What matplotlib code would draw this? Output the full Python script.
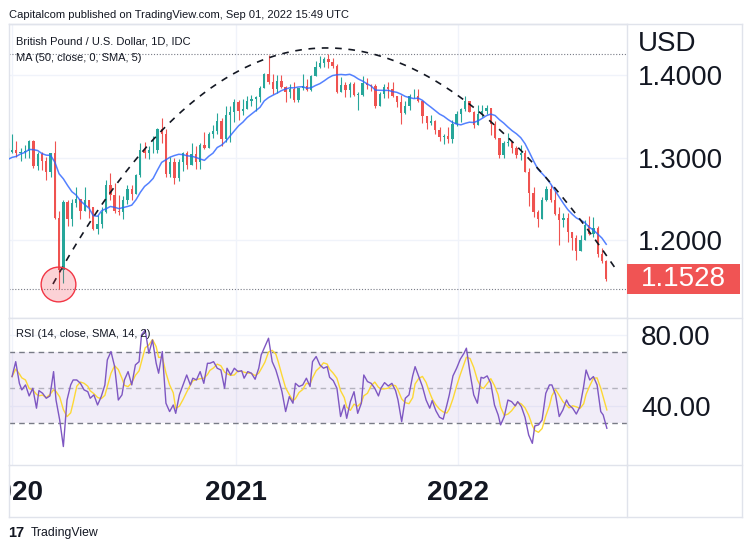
import matplotlib
matplotlib.use('Agg')
import matplotlib.pyplot as plt
import matplotlib.dates as mdates
from matplotlib.lines import Line2D
from matplotlib.patches import Rectangle
from matplotlib.ticker import FormatStrFormatter
from matplotlib.transforms import blended_transform_factory, Bbox, TransformedBbox
import numpy as np
import pandas as pd

plt.rcParams['font.family'] = ['Liberation Sans', 'DejaVu Sans']

# ---------------- data (weekly GBP/USD candles, week ending Friday) ----------------
first_week = '2019-10-04'
first_open = 1.2210
closes = [
    1.2330, 1.2670, 1.2970, 1.2830, 1.2940, 1.2770, 1.2900, 1.2830, 1.2930, 1.3150, 1.3330, 1.3010, 1.3070,
    1.3085, 1.3060, 1.3070, 1.3075, 1.3200, 1.2900, 1.3045, 1.2960, 1.2820, 1.3050, 1.2270, 1.1640, 1.2460,
    1.2260, 1.2450, 1.2495, 1.2350, 1.2490, 1.2400, 1.2130, 1.2200, 1.2340, 1.2670, 1.2540, 1.2350, 1.2335,
    1.2480, 1.2620, 1.2560, 1.2790, 1.3090, 1.3060, 1.3090, 1.3090, 1.3350, 1.3280, 1.2800, 1.2940, 1.2750,
    1.2940, 1.3050, 1.2915, 1.3040, 1.2950, 1.3150, 1.3120, 1.3290, 1.3320, 1.3440, 1.3225, 1.3520, 1.3550,
    1.3670, 1.3560, 1.3590, 1.3685, 1.3705, 1.3735, 1.3840, 1.4010, 1.3920, 1.3830, 1.3930, 1.3860, 1.3790,
    1.3830, 1.3700, 1.3840, 1.3870, 1.3820, 1.3990, 1.4100, 1.4150, 1.4195, 1.4160, 1.4110, 1.3790, 1.3880,
    1.3820, 1.3890, 1.3760, 1.3760, 1.3900, 1.3880, 1.3870, 1.3620, 1.3770, 1.3860, 1.3830, 1.3740, 1.3670,
    1.3540, 1.3620, 1.3740, 1.3750, 1.3680, 1.3500, 1.3415, 1.3440, 1.3330, 1.3250, 1.3265, 1.3230, 1.3410,
    1.3530,
    1.3590, 1.3680, 1.3555, 1.3400, 1.3530, 1.3560, 1.3595, 1.3410, 1.3240, 1.3030, 1.3180, 1.3190, 1.3110,
    1.3030, 1.3060, 1.2830, 1.2570, 1.2340, 1.2260, 1.2490, 1.2620, 1.2490, 1.2310, 1.2240, 1.2270, 1.2100,
    1.2030, 1.1870, 1.2000, 1.2180, 1.2070, 1.2140, 1.1830, 1.1740, 1.1528,
]
highs = [
    1.2390, 1.2710, 1.3013, 1.3012, 1.2980, 1.2950, 1.2930, 1.2980, 1.2980, 1.3180, 1.3514, 1.3400, 1.3120,
    1.3285, 1.3200, 1.3120, 1.3155, 1.3210, 1.3210, 1.3070, 1.3070, 1.3010, 1.3060, 1.3200, 1.2350, 1.2485,
    1.2480, 1.2500, 1.2647, 1.2500, 1.2640, 1.2480, 1.2400, 1.2300, 1.2400, 1.2730, 1.2812, 1.2690, 1.2540,
    1.2530, 1.2670, 1.2670, 1.2800, 1.3170, 1.3185, 1.3145, 1.3265, 1.3360, 1.3482, 1.3350, 1.3005, 1.2990,
    1.2980, 1.3065, 1.3080, 1.3175, 1.3140, 1.3180, 1.3310, 1.3310, 1.3400, 1.3540, 1.3475, 1.3625, 1.3620,
    1.3705, 1.3700, 1.3710, 1.3745, 1.3760, 1.3740, 1.3865, 1.4030, 1.4240, 1.4015, 1.4000, 1.4000, 1.3870,
    1.3885, 1.3920, 1.3840, 1.4010, 1.3950, 1.4005, 1.4165, 1.4235, 1.4220, 1.4250, 1.4200, 1.4135, 1.3975,
    1.3910, 1.3910, 1.3910, 1.3790, 1.3985, 1.3960, 1.3890, 1.3890, 1.3790, 1.3890, 1.3910, 1.3910, 1.3750,
    1.3760, 1.3680, 1.3770, 1.3835, 1.3830, 1.3700, 1.3500, 1.3515, 1.3450, 1.3375, 1.3290, 1.3375, 1.3450,
    1.3560,
    1.3600, 1.3750, 1.3690, 1.3560, 1.3640, 1.3640, 1.3640, 1.3605, 1.3440, 1.3240, 1.3200, 1.3300, 1.3170,
    1.3140, 1.3150, 1.3090, 1.2870, 1.2640, 1.2360, 1.2520, 1.2660, 1.2665, 1.2600, 1.2405, 1.2325, 1.2330,
    1.2100, 1.2060, 1.2065, 1.2245, 1.2295, 1.2275, 1.2165, 1.1900, 1.1760,
]
lows = [
    1.2200, 1.2195, 1.2630, 1.2800, 1.2830, 1.2760, 1.2770, 1.2820, 1.2820, 1.2920, 1.3100, 1.3000, 1.2980,
    1.3050, 1.3010, 1.2955, 1.2990, 1.3000, 1.2875, 1.2850, 1.2850, 1.2725, 1.2765, 1.2260, 1.1410, 1.1480,
    1.2165, 1.2170, 1.2400, 1.2250, 1.2350, 1.2265, 1.2120, 1.2075, 1.2150, 1.2330, 1.2480, 1.2330, 1.2300,
    1.2250, 1.2440, 1.2480, 1.2600, 1.2760, 1.2990, 1.2985, 1.3060, 1.3060, 1.3180, 1.2760, 1.2760, 1.2676,
    1.2720, 1.2840, 1.2865, 1.2920, 1.2855, 1.2855, 1.3105, 1.3140, 1.3240, 1.3290, 1.3135, 1.3190, 1.3190,
    1.3430, 1.3450, 1.3520, 1.3590, 1.3625, 1.3565, 1.3670, 1.3840, 1.3890, 1.3775, 1.3780, 1.3840, 1.3670,
    1.3720, 1.3670, 1.3670, 1.3820, 1.3800, 1.3800, 1.3990, 1.4080, 1.4100, 1.4080, 1.4080, 1.3785, 1.3790,
    1.3730, 1.3730, 1.3750, 1.3570, 1.3740, 1.3835, 1.3800, 1.3600, 1.3640, 1.3720, 1.3725, 1.3730, 1.3610,
    1.3410, 1.3530, 1.3570, 1.3720, 1.3670, 1.3420, 1.3350, 1.3390, 1.3280, 1.3195, 1.3160, 1.3170, 1.3180,
    1.3380,
    1.3430, 1.3560, 1.3550, 1.3360, 1.3430, 1.3490, 1.3530, 1.3270, 1.3225, 1.3000, 1.3000, 1.3140, 1.3050,
    1.3000, 1.2970, 1.2820, 1.2410, 1.2275, 1.2155, 1.2300, 1.2470, 1.2460, 1.2300, 1.1935, 1.2160, 1.1975,
    1.1875, 1.1760, 1.1890, 1.2000, 1.2060, 1.2040, 1.1800, 1.1720, 1.1500,
]

# RSI(14) readings, one every 4 business days from 2020-01-01
rsi_start = '2020-01-01'
rsi_values = [
    56.3, 64.7, 52.5, 48.8, 51.6, 45.4, 49.7, 38.5, 48.4, 46.9,
    44.1, 45.4, 59.1, 43.1, 31.9, 16.9, 43.1, 51.6, 54.4, 54.4,
    52.5, 48.8, 47.8, 44.1, 46.0, 40.3, 45.0, 51.6, 65.7, 70.4,
    61.9, 43.1, 46.0, 54.4, 59.1, 51.6, 62.9, 64.7, 79.8, 82.6,
    69.4, 76.9, 63.8, 58.2, 70.4, 41.3, 36.6, 40.3, 35.6, 46.0,
    51.6, 57.2, 51.6, 55.4, 54.4, 59.1, 52.5, 63.8, 63.8, 64.7,
    61.0, 60.0, 49.7, 61.0, 57.2, 61.0, 59.1, 59.6, 55.4, 59.1,
    58.2, 54.8, 61.0, 68.5, 73.2, 77.9, 64.7, 60.0, 55.4, 47.8,
    36.6, 45.0, 41.3, 52.5, 50.7, 51.6, 55.4, 50.7, 64.7, 67.6,
    62.9, 61.0, 61.9, 55.9, 54.0, 49.7, 33.8, 40.3, 32.8, 42.2,
    47.8, 35.6, 41.3, 57.2, 53.5, 52.5, 49.7,
    45.4, 49.7, 52.9, 51.0, 52.5, 48.4, 43.1, 30.9, 44.1, 46.0,
    56.7, 61.9, 56.3, 50.7, 43.1, 38.5, 42.8, 37.1, 33.4, 32.3,
    40.3, 46.0, 56.7, 61.0, 66.1, 69.4, 72.3, 58.2, 46.0, 41.3,
    55.9, 55.4, 56.7, 52.5, 40.3, 34.7, 29.1, 33.8, 43.1, 42.2,
    39.8, 42.2, 39.4, 33.4, 23.4, 18.7, 28.5, 29.1, 31.9, 46.9,
    51.6, 51.6, 46.0, 33.8, 37.5, 43.1, 40.3, 38.5, 35.2, 39.4,
    50.7, 60.0, 54.4, 56.3, 51.6, 36.6, 34.7, 27.2,
]

# drawn curve (quadratic Bezier control points) and horizontal levels
curve_dates = ['2020-03-08', '2021-05-04', '2022-09-19']
curve_prices = [1.1467, 1.7115, 1.1612]
level_prices = [1.4250, 1.1410]
circle_date = '2020-03-17'
circle_price = 1.147

price_ticks = [1.2, 1.3, 1.4]
rsi_ticks = [40, 80]

header = 'Capitalcom published on TradingView.com, Sep 01, 2022 15:49 UTC'
title = 'British Pound / U.S. Dollar, 1D, IDC'
ma_label = 'MA (50, close, 0, SMA, 5)'
rsi_label = 'RSI (14, close, SMA, 14, 2)'

# ---------------- derived series ----------------
closes = np.array(closes)
opens = np.concatenate([[first_open], closes[:-1]])
highs = np.maximum(np.array(highs), np.maximum(opens, closes))
lows = np.minimum(np.array(lows), np.minimum(opens, closes))
weeks = pd.date_range(first_week, periods=len(closes), freq='W-FRI')
xc = mdates.date2num(weeks - pd.Timedelta(days=2))
ma = pd.Series(closes).rolling(10).mean().values

rsi_dates = pd.bdate_range(rsi_start, periods=len(rsi_values), freq='4B')
rsi_signal = pd.Series(rsi_values).rolling(4, min_periods=1).mean().values

# ---------------- figure ----------------
W, H = 750, 549
fig = plt.figure(figsize=(W / 100, H / 100), dpi=100)
fig.patch.set_facecolor('white')


def fx(p):
    return p / W


def fy(p):
    return 1 - p / H


TXT = '#131722'
GRID = '#f0f3fa'
BORDER = '#e0e3eb'
UP = '#26A69A'
DOWN = '#EF5350'

ax = fig.add_axes([fx(9), fy(318), fx(627) - fx(9), fy(24) - fy(318)])
axr = fig.add_axes([fx(9), fy(465), fx(627) - fx(9), fy(318) - fy(465)], sharex=ax)

for a in (ax, axr):
    for s in a.spines.values():
        s.set_color(BORDER)
        s.set_linewidth(1)
    a.set_facecolor('white')

# candles
colors = np.where(closes >= opens, UP, DOWN)
ax.vlines(xc, lows, highs, colors=colors, linewidth=0.8, zorder=3)
ax.bar(xc, np.maximum(np.abs(closes - opens), 0.0006), bottom=np.minimum(opens, closes),
       width=3.8, color=colors, linewidth=0, zorder=3)

# moving average
ax.plot(xc, ma, color='#2962FF', lw=1.1, alpha=0.8, zorder=4)

# levels
for lv in level_prices:
    ax.axhline(lv, color='#787B86', ls=(0, (1, 1.6)), lw=0.8, zorder=2)

# bezier curve
cx = mdates.date2num(pd.to_datetime(curve_dates))
cy = np.array(curve_prices)
t = np.linspace(0, 1, 300)
bx = (1 - t) ** 2 * cx[0] + 2 * t * (1 - t) * cx[1] + t ** 2 * cx[2]
by = (1 - t) ** 2 * cy[0] + 2 * t * (1 - t) * cy[1] + t ** 2 * cy[2]
ax.plot(bx, by, color=TXT, ls=(0, (4, 4)), lw=1.2, zorder=5)

# circle
ax.plot(mdates.date2num(pd.Timestamp(circle_date)), circle_price, 'o', ms=25,
        mfc=(0.949, 0.212, 0.271, 0.22), mec='#F23645', mew=1, zorder=6)

ax.set_xlim(mdates.date2num(pd.Timestamp('2019-12-27')), mdates.date2num(pd.Timestamp('2022-10-04')))
ax.set_ylim(1.1055, 1.4618)

ax.yaxis.tick_right()
ax.set_yticks(price_ticks)
ax.yaxis.set_major_formatter(FormatStrFormatter('%.4f'))
ax.tick_params(axis='y', length=0, pad=8, labelsize=20, labelcolor=TXT)
ax.tick_params(axis='x', bottom=False, labelbottom=False, length=0)
ax.grid(True, color=GRID, lw=1, zorder=0)
ax.set_axisbelow(True)

# last price label
last = closes[-1]
tr = blended_transform_factory(fig.transFigure, ax.transData)
ax.add_patch(Rectangle((fx(627), last - 0.0182), fx(740) - fx(627), 0.0364, transform=tr,
                       facecolor='#F05454', edgecolor='none', clip_on=False, zorder=10))
ax.text(fx(683.5), last, f'{last:.4f}', transform=tr, ha='center', va='center',
        fontsize=20, color='white', zorder=11)

# RSI panel
axr.axhspan(30, 70, color='#7E57C2', alpha=0.1, lw=0, zorder=1)
for lv, al in ((70, 1.0), (50, 0.5), (30, 1.0)):
    axr.axhline(lv, color='#787B86', ls=(0, (4, 3)), lw=1, alpha=al, zorder=2)
axr.plot(rsi_dates, rsi_values, color='#7E57C2', lw=1.0, zorder=4)
axr.plot(rsi_dates, rsi_signal, color='#FDD835', lw=1.0, zorder=3)
axr.set_ylim(6.5, 89.3)
axr.yaxis.tick_right()
axr.set_yticks(rsi_ticks)
axr.yaxis.set_major_formatter(FormatStrFormatter('%.2f'))
axr.tick_params(axis='y', length=0, pad=10, labelsize=20, labelcolor=TXT)
axr.xaxis.set_major_locator(mdates.YearLocator())
axr.xaxis.set_major_formatter(mdates.DateFormatter('%Y'))
axr.tick_params(axis='x', length=0, pad=11, labelsize=20, labelcolor=TXT)
axr.grid(True, color=GRID, lw=1, zorder=0)
axr.set_axisbelow(True)

# year labels are clipped to the time-scale pane, as on the chart
clip = TransformedBbox(Bbox([[fx(9), 0], [fx(627), 1]]), fig.transFigure)
fig.canvas.draw()
for lab in axr.get_xticklabels():
    lab.set_fontweight('bold')
    lab.set_clip_box(clip)
    lab.set_clip_on(True)

# frame lines
def fline(x0, y0, x1, y1):
    fig.add_artist(Line2D([fx(x0), fx(x1)], [fy(y0), fy(y1)], color=BORDER, lw=1))

fline(9, 24, 742, 24)
fline(742, 24, 742, 517)
fline(9, 517, 742, 517)
fline(627, 318, 742, 318)
fline(627, 465, 742, 465)
fline(627, 465, 627, 517)
fline(9, 465, 9, 517)

# texts
fig.text(fx(9), fy(15.5), header, fontsize=8, color=TXT, va='center', ha='left')
fig.text(fx(16), fy(41), title, fontsize=8, color=TXT, va='center', ha='left')
fig.text(fx(16), fy(58), ma_label, fontsize=8, color=TXT, va='center', ha='left')
fig.text(fx(16), fy(334), rsi_label, fontsize=8, color=TXT, va='center', ha='left')
fig.text(fx(638), fy(44), 'USD', fontsize=20, color=TXT, va='center', ha='left')
fig.text(fx(8), fy(533), '17', fontsize=10.5, fontweight='bold', color=TXT, va='center', ha='left')
fig.text(fx(31), fy(533), 'TradingView', fontsize=8.8, color=TXT, va='center', ha='left')

fig.savefig('out.png', dpi=100, facecolor='white')
